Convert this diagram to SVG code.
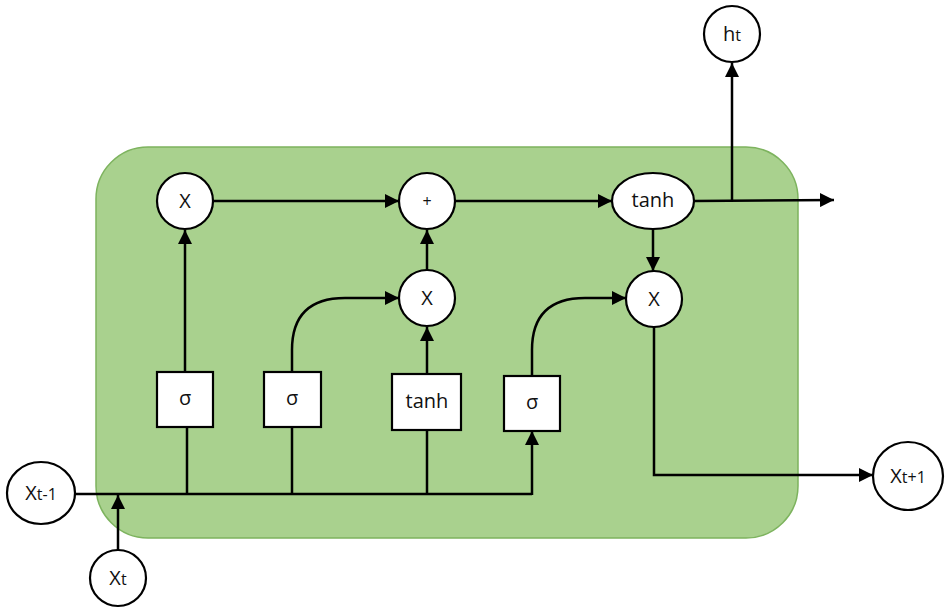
<svg xmlns="http://www.w3.org/2000/svg" width="950" height="614" viewBox="0 0 950 614">
<defs>
<marker id="ah" markerUnits="userSpaceOnUse" markerWidth="14" markerHeight="14" viewBox="0 0 14 14" refX="14" refY="7" orient="auto">
<path d="M0,0 L14,7 L0,14 z" fill="#000"/>
</marker>
<style>
.n{fill:#fff;stroke:#000;stroke-width:2.2}
.c{fill:none;stroke:#000;stroke-width:2.5}
.a{marker-end:url(#ah)}
.t{font-family:"Open Sans","Liberation Sans",sans-serif;font-size:20px;fill:#111;text-anchor:middle}
.s{font-size:16px}
</style>
</defs>
<rect x="96" y="147" width="702" height="391" rx="52" ry="52" fill="#a9d18e" stroke="#7db35e" stroke-width="1.5"/>
<g id="connectors">
<path class="c" d="M75,494 H532"/>
<path class="c a" d="M532,495 V431"/>
<path class="c a" d="M118,550 V495"/>
<path class="c" d="M187,494 V427"/>
<path class="c a" d="M185,372 V230"/>
<path class="c" d="M292,494 V427"/>
<path class="c a" d="M292,372 V350 Q292,298 345,298 H399"/>
<path class="c" d="M427,494 V430"/>
<path class="c a" d="M427,374 V327"/>
<path class="c a" d="M427,270 V230"/>
<path class="c a" d="M532,376 V350 Q532,298 585,298 H626"/>
<path class="c a" d="M213,201 H399"/>
<path class="c a" d="M455,201 H612"/>
<path class="c a" d="M653,229 V271"/>
<path class="c a" d="M694,201 L834,200"/>
<path class="c a" d="M732,200 V63"/>
<path class="c a" d="M654,327 V475 H873"/>
</g>
<g id="n_xtm1"><ellipse class="n" cx="41" cy="493" rx="34" ry="31"/><text class="t" x="41" y="500">X<tspan class="s">t-1</tspan></text></g>
<g id="n_xt"><circle class="n" cx="118" cy="578" r="28"/><text class="t" x="118" y="585">X<tspan class="s">t</tspan></text></g>
<g id="n_ht"><circle class="n" cx="732" cy="34" r="28"/><text class="t" x="732" y="41">h<tspan class="s">t</tspan></text></g>
<g id="n_xtp1"><ellipse class="n" cx="908" cy="476" rx="35" ry="34"/><text class="t" x="908" y="483">X<tspan class="s">t+1</tspan></text></g>
<g id="n_mul1"><circle class="n" cx="185" cy="201" r="28"/><text class="t" x="185" y="208">X</text></g>
<g id="n_add"><circle class="n" cx="427" cy="201" r="28"/><text class="t" x="427" y="207" style="font-size:16px">+</text></g>
<g id="n_mul2"><circle class="n" cx="427" cy="298" r="28"/><text class="t" x="427" y="305">X</text></g>
<g id="n_tanh2"><ellipse class="n" cx="653" cy="201" rx="41" ry="28"/><text class="t" x="653" y="207">tanh</text></g>
<g id="n_mul3"><circle class="n" cx="654" cy="299" r="28"/><text class="t" x="654" y="306">X</text></g>
<g id="n_sig1"><rect class="n" x="157" y="372" width="56" height="55"/><text class="t" x="185" y="405">σ</text></g>
<g id="n_sig2"><rect class="n" x="264" y="372" width="57" height="55"/><text class="t" x="292" y="405">σ</text></g>
<g id="n_tanh1"><rect class="n" x="392" y="374" width="69" height="56"/><text class="t" x="427" y="408">tanh</text></g>
<g id="n_sig3"><rect class="n" x="504" y="376" width="56" height="55"/><text class="t" x="532" y="409">σ</text></g>
</svg>
